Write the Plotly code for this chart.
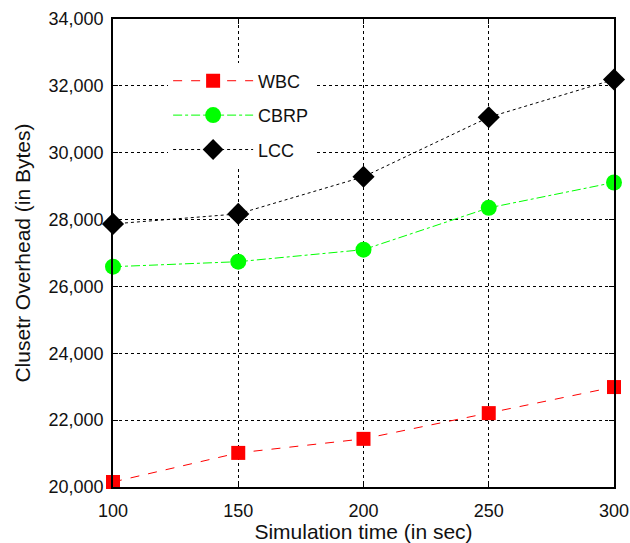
import plotly.graph_objects as go

sim_time = [100, 150, 200, 250, 300]
wbc = [20150, 21020, 21440, 22210, 22990]
cbrp = [26590, 26740, 27100, 28350, 29110]
lcc = [27870, 28170, 29280, 31060, 32190]

fig = go.Figure()
fig.add_trace(go.Scatter(x=sim_time, y=wbc, name="WBC", mode="lines+markers", legendgroup="a",
                         cliponaxis=False,
                         line=dict(color="#ff0000", width=1, dash="dash"),
                         marker=dict(symbol="square", size=14, color="#ff0000")))
fig.add_trace(go.Scatter(x=sim_time, y=cbrp, name="CBRP", mode="lines+markers", legendgroup="b",
                         cliponaxis=False,
                         line=dict(color="#00ff00", width=1, dash="dashdot"),
                         marker=dict(symbol="circle", size=16, color="#00ff00")))
fig.add_trace(go.Scatter(x=sim_time, y=lcc, name="LCC", mode="lines+markers", legendgroup="c",
                         cliponaxis=False,
                         line=dict(color="#000000", width=1, dash="dot"),
                         marker=dict(symbol="diamond", size=17, color="#000000")))

axis_common = dict(showline=True, linecolor="black", linewidth=1.5, mirror="ticks",
                   ticks="inside", ticklen=5, tickcolor="black", automargin=False,
                   showgrid=True, gridcolor="black", griddash="dot", gridwidth=1,
                   zeroline=False, tickfont=dict(size=18, color="#111"),
                   )
fig.update_xaxes(range=[100, 300], tickvals=sim_time, ticklabelstandoff=7, **axis_common,
                 title=dict(text="Simulation time (in sec)", font=dict(size=21, color="#111"), standoff=6))
fig.update_yaxes(range=[20000, 34000], dtick=2000, tickformat=",d", ticklabelstandoff=4, **axis_common,
                 title=dict(text="Clusetr Overhead (in Bytes)", font=dict(size=21, color="#111"), standoff=12))

fig.update_layout(
    width=630, height=543,
    margin=dict(l=113, r=16, t=19, b=56),
    paper_bgcolor="white", plot_bgcolor="white",
    font=dict(family="Liberation Sans, Arial, sans-serif", color="#111"),
    legend=dict(x=0.11, y=0.907, xanchor="left", yanchor="top", bgcolor="white",
                font=dict(size=18), tracegroupgap=8, itemwidth=80),
    showlegend=True,
)
fig.write_html("out.html")
